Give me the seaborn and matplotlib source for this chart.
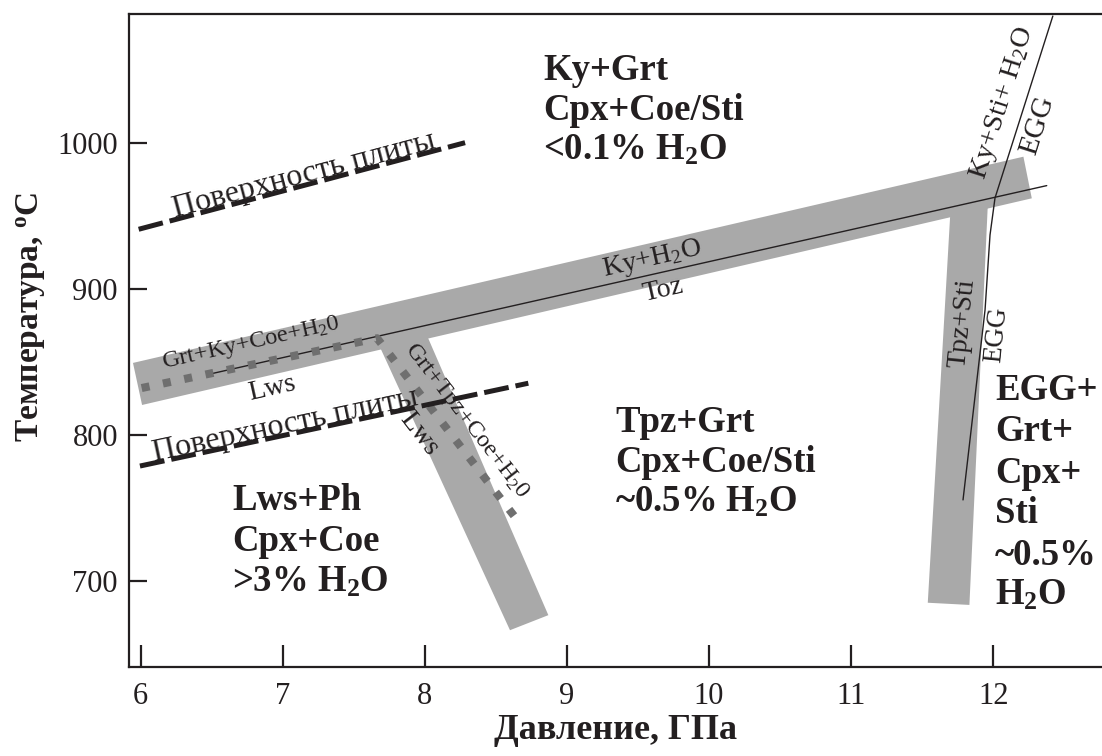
import numpy as np
import matplotlib
matplotlib.use("Agg")
import matplotlib.pyplot as plt
import seaborn as sns

# ---- P (GPa) / T (deg C) coordinates of the diagram elements ----
# grey reaction bands (polygon outlines)
band_upper_p = [5.947, 12.213, 12.272, 6.011]
band_upper_t = [849.6, 990.8, 962.3, 820.8]
band_lws_p = [7.636, 7.948, 8.870, 8.600]
band_lws_t = [870.8, 883.6, 676.9, 666.6]
band_egg_p = [11.704, 11.964, 11.833, 11.540]
band_egg_t = [961.2, 961.2, 683.9, 685.4]

# thin univariant curves
toz_p = [6.489, 12.377]
toz_t = [842.0, 971.0]
egg_p = [12.420, 12.013, 11.978, 11.943, 11.788]
egg_t = [1087.1, 962.5, 937.2, 885.9, 755.8]

# lawsonite breakdown (dotted)
lws_p = [6.008, 7.665, 8.635]
lws_t = [832.4, 866.5, 744.1]

# slab-surface geotherms (dashed)
slab_upper_p = [5.987, 8.284]
slab_upper_t = [941.1, 1000.4]
slab_lower_p = [5.996, 8.729]
slab_lower_t = [779.0, 835.7]

x_ticks = [6, 7, 8, 9, 10, 11, 12]
y_ticks = [700, 800, 900, 1000]

# phase-field assemblages: (P of left edge, T of each baseline, lines)
field_ky = (8.833, [1043.3, 1015.9, 988.5],
            ["Ky+Grt", "Cpx+Coe/Sti", "<0.1% H$_2$O"])
field_tpz = (9.339, [802.3, 774.9, 747.5],
             ["Tpz+Grt", "Cpx+Coe/Sti", "~0.5% H$_2$O"])
field_lws = (6.644, [748.9, 720.8, 692.8],
             ["Lws+Ph", "Cpx+Coe", ">3% H$_2$O"])
field_egg = (12.013, [824.2, 796.2, 767.4, 740.0, 711.3, 683.9],
             ["EGG+", "Grt+", "Cpx+", "Sti", "~0.5%", "H$_2$O"])

INK = "#231f20"
BAND = "#a9a9a9"
DOT = "#6f6f6f"

sns.set_theme(style="ticks")
plt.rcParams["font.family"] = ["Liberation Serif", "DejaVu Serif"]
plt.rcParams["mathtext.fontset"] = "custom"
plt.rcParams["mathtext.rm"] = "Liberation Serif"
plt.rcParams["mathtext.bf"] = "Liberation Serif:bold"
plt.rcParams["mathtext.default"] = "regular"
plt.rcParams["text.color"] = INK
plt.rcParams["axes.edgecolor"] = INK

W, H = 1102, 756
fig = plt.figure(figsize=(W / 100, H / 100), dpi=100)
ax = fig.add_axes([129 / W, 1 - 667 / H, 1 - 129 / W, (667 - 14) / H])
ax.set_xlim(5.919, 12.766)
ax.set_ylim(641.4, 1088.5)

# bands
for bp, bt in [(band_upper_p, band_upper_t), (band_lws_p, band_lws_t),
               (band_egg_p, band_egg_t)]:
    ax.fill(bp, bt, color=BAND, lw=0, zorder=1)

# curves
sns.lineplot(x=toz_p, y=toz_t, sort=False, estimator=None, color=INK,
             lw=1.0, ax=ax, zorder=3)
sns.lineplot(x=egg_p, y=egg_t, sort=False, estimator=None, color=INK,
             lw=1.0, ax=ax, zorder=3)
sns.lineplot(x=lws_p, y=lws_t, sort=False, estimator=None, color=DOT,
             lw=5.8, linestyle=(0, (1, 1.7)), dash_capstyle="butt",
             ax=ax, zorder=4)
for sp, st in [(slab_upper_p, slab_upper_t), (slab_lower_p, slab_lower_t)]:
    sns.lineplot(x=sp, y=st, sort=False, estimator=None, color=INK,
                 lw=3.6, linestyle=(0, (5, 1.4)), dash_capstyle="butt",
                 ax=ax, zorder=5)


def screen_angle(p0, t0, p1, t1):
    (x0, y0), (x1, y1) = ax.transData.transform([(p0, t0), (p1, t1)])
    return np.degrees(np.arctan2(y1 - y0, x1 - x0))


def curve_label(p, t, s, angle, size, va="center"):
    ax.text(p, t, s, rotation=angle, rotation_mode="anchor", ha="center",
            va=va, fontsize=size, color=INK, zorder=6)


a_slab_up = screen_angle(slab_upper_p[0], slab_upper_t[0],
                         slab_upper_p[1], slab_upper_t[1])
a_slab_lo = screen_angle(slab_lower_p[0], slab_lower_t[0],
                         slab_lower_p[1], slab_lower_t[1])
a_toz = screen_angle(toz_p[0], toz_t[0], toz_p[1], toz_t[1])
a_egg_up = screen_angle(egg_p[1], egg_t[1], egg_p[0], egg_t[0])
a_egg_lo = screen_angle(egg_p[4], egg_t[4], egg_p[2], egg_t[2])
a_lws = screen_angle(lws_p[1], lws_t[1], lws_p[2], lws_t[2])

curve_label(7.161, 972.8, "Поверхность плиты", a_slab_up, 23, va="baseline")
curve_label(7.028, 801.8, "Поверхность плиты", a_slab_lo, 23, va="baseline")
curve_label(6.779, 863.2, "Grt+Ky+Coe+H$_2$0", a_toz, 17.5)
curve_label(6.928, 832.2, "Lws", a_toz, 20)
curve_label(9.601, 920.6, "Ky+H$_2$O", a_toz, 20)
curve_label(9.677, 899.4, "Toz", a_toz, 20)
curve_label(12.070, 1027.6, "Ky+Sti+ H$_2$O", a_egg_up, 20.5)
curve_label(12.316, 1012.5, "EGG", a_egg_up, 21)
curve_label(11.788, 877.1, "Tpz+Sti", a_egg_lo, 20)
curve_label(12.027, 868.8, "EGG", a_egg_lo, 19.5)
curve_label(8.291, 810.0, "Grt+Tpz+Coe+H$_2$0", a_lws, 17.5)
curve_label(7.956, 801.3, "Lws", a_lws, 20)

# phase-field assemblages
for p0, baselines, lines in [field_ky, field_tpz, field_lws, field_egg]:
    for t0, s in zip(baselines, lines):
        ax.text(p0, t0, s, ha="left", va="baseline", fontsize=26.5,
                fontweight="bold", color=INK, zorder=6)

# axes styling
ax.set_xticks(x_ticks)
ax.set_yticks(y_ticks)
ax.tick_params(axis="x", direction="in", length=16, width=1.6, pad=11,
               labelsize=22, colors=INK, bottom=True, top=False)
ax.tick_params(axis="y", direction="in", length=13, width=1.6, pad=8,
               labelsize=22, colors=INK, left=True, right=False)
for side in ["left", "bottom", "top"]:
    ax.spines[side].set_linewidth(1.6)
    ax.spines[side].set_color(INK)
ax.spines["right"].set_visible(False)

ax.set_xlabel("Давление, ГПа", fontsize=26, fontweight="bold", color=INK)
ax.set_ylabel("Температура, $^o$C", fontsize=24, fontweight="bold",
              color=INK)
ax.xaxis.set_label_coords(0.5, -0.0725)
ax.yaxis.set_label_coords(-0.0835, 0.536)

fig.savefig("out.png", dpi=100)
